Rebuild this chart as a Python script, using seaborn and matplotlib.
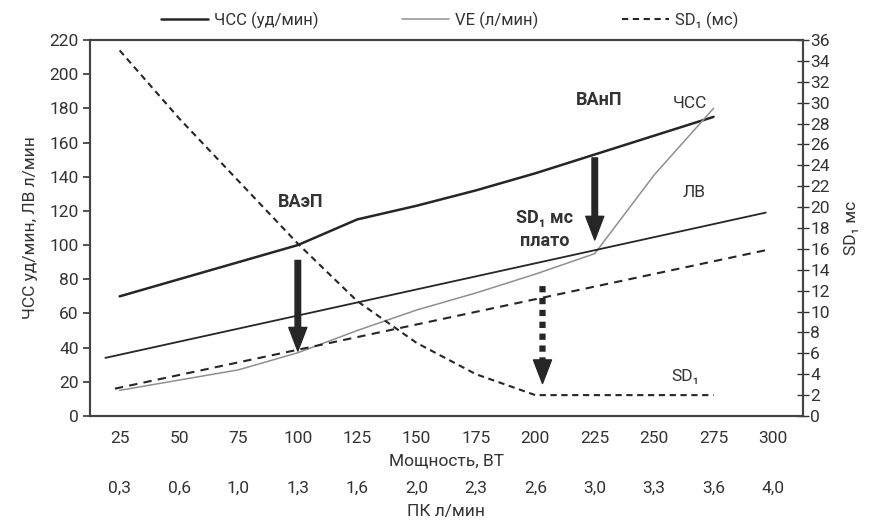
import pandas as pd
import seaborn as sns
import matplotlib.pyplot as plt

# data
power = [25, 50, 75, 100, 125, 150, 175, 200, 225, 250, 275]
hr = [70, 80, 90, 100, 115, 123, 132, 142, 153, 164, 175]
ve = [15, 21, 27, 37, 50, 62, 72, 83, 95, 141, 180]
sd1 = [35, 28.5, 22.5, 16.5, 11, 7, 4, 2, 2, 2, 2]

# straight trend lines (left axis)
ve_trend_x = [19, 297]
ve_trend = [34, 119]
sd1_trend_x = [23, 297]
sd1_trend = [16, 97]

power_ticks = [25, 50, 75, 100, 125, 150, 175, 200, 225, 250, 275, 300]
pk_labels = ['0,3', '0,6', '1,0', '1,3', '1,6', '2,0', '2,3', '2,6', '3,0', '3,3', '3,6', '4,0']

df = pd.DataFrame({'power': power, 'hr': hr, 've': ve, 'sd1': sd1})

sns.set_theme(style='ticks')
plt.rcParams['font.family'] = ['Roboto', 'DejaVu Sans']
plt.rcParams['text.color'] = '#333333'
plt.rcParams['axes.labelcolor'] = '#333333'
plt.rcParams['xtick.color'] = '#333333'
plt.rcParams['ytick.color'] = '#333333'

fig = plt.figure(figsize=(8.82, 5.23), dpi=100)
ax = fig.add_axes([0.102, 0.2046, 0.808, 0.719])
ax2 = ax.twinx()

dark = '#262626'
sns.lineplot(data=df, x='power', y='hr', ax=ax, color=dark, lw=1.8, label='ЧСС (уд/мин)')
sns.lineplot(data=df, x='power', y='ve', ax=ax, color='#8f8f8f', lw=1.1, label='VE (л/мин)')
sns.lineplot(x=ve_trend_x, y=ve_trend, ax=ax, color=dark, lw=1.3)
sns.lineplot(x=sd1_trend_x, y=sd1_trend, ax=ax, color=dark, lw=1.5, linestyle=(0, (4, 3)))
sns.lineplot(data=df, x='power', y='sd1', ax=ax2, color=dark, lw=1.5, linestyle=(0, (3, 2.2)),
             label='SD\u2081 (мс)')

ax.set_xlim(12.5, 312.5)
ax.set_ylim(0, 220)
ax.set_yticks(range(0, 221, 20))
ax2.set_ylim(0, 36)
ax2.set_yticks(range(0, 37, 2))

ax.set_xticks(power_ticks)
ax.tick_params(axis='x', length=0, pad=11, labelsize=12.5)
ax.tick_params(axis='y', length=5, width=1.2, labelsize=12.5, pad=3)
ax2.tick_params(axis='y', direction='inout', length=9, width=1.0, labelsize=12.5, pad=1)
ax.set_xlabel('Мощность, ВТ', fontsize=12.5, labelpad=5)
ax.set_ylabel('ЧСС уд/мин, ЛВ л/мин', fontsize=12.5, labelpad=8)
ax2.set_ylabel('SD\u2081 мс', fontsize=12.5, labelpad=10)

for a in (ax, ax2):
    for s in a.spines.values():
        s.set_color('#444444')
        s.set_linewidth(1.5)

secax = ax.secondary_xaxis(-0.162)
secax.set_xticks(power_ticks, pk_labels)
secax.tick_params(axis='x', length=0, pad=3, labelsize=12.5)
secax.spines['bottom'].set_visible(False)
secax.set_xlabel('ПК л/мин', fontsize=12.5, labelpad=6)

# annotations
ax.text(101, 125, 'ВАэП', fontsize=13, fontweight='bold', ha='center', va='center')
ax.text(227, 185, 'ВАнП', fontsize=13, fontweight='bold', ha='center', va='center')
ax.text(204, 109, 'SD\u2081 мс\nплато', fontsize=13, fontweight='bold', ha='center', va='center',
        linespacing=1.4)
ax.text(265, 183, 'ЧСС', fontsize=12.5, ha='center', va='center')
ax.text(267, 131, 'ЛВ', fontsize=12.5, ha='center', va='center')
ax.text(263, 23, 'SD\u2081', fontsize=12.5, ha='center', va='center')

arrow = dict(width=4, headwidth=13, headlength=17, color=dark, shrink=0)
ax.annotate('', xy=(100, 38), xytext=(100, 91), arrowprops=arrow)
ax.annotate('', xy=(225, 103), xytext=(225, 151), arrowprops=arrow)
# dotted arrow: dotted shaft + solid head
ax.annotate('', xy=(203, 30), xytext=(203, 76),
            arrowprops=dict(arrowstyle='-', lw=4.5, ls=(0, (1, 0.9)), color=dark,
                            shrinkA=0, shrinkB=0, capstyle='butt'))
ax.annotate('', xy=(203, 19), xytext=(203, 31),
            arrowprops=dict(width=0.1, headwidth=13, headlength=17, color=dark, shrink=0))

handles = ax.get_legend().legend_handles + ax2.get_legend().legend_handles
labels = ['ЧСС (уд/мин)', 'VE (л/мин)', 'SD\u2081 (мс)']
ax.get_legend().remove()
ax2.get_legend().remove()
fig.legend(handles, labels, loc='center', bbox_to_anchor=(0.51, 0.962), ncol=3, frameon=False,
           fontsize=12, handlelength=2.8, handletextpad=0.4, columnspacing=5)

fig.savefig('out.png', dpi=100)
